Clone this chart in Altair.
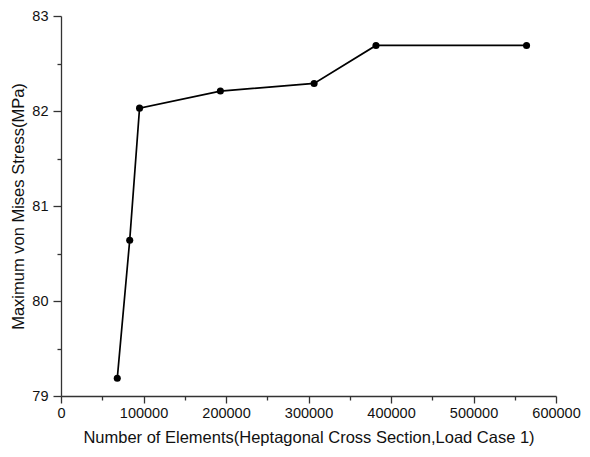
import altair as alt
import pandas as pd

elements = [68200, 83300, 95200, 193200, 306800, 381800, 564300]
stress = [79.186, 80.64, 82.03, 82.21, 82.29, 82.69, 82.69]

x_ticks = [i * 50000 for i in range(13)]
y_ticks = [79 + i * 0.5 for i in range(9)]

df = pd.DataFrame({"elements": elements, "stress": stress})

FONT = "Liberation Sans"

x = alt.X(
    "elements:Q",
    scale=alt.Scale(domain=[0, 600000], nice=False, zero=False),
    axis=alt.Axis(
        values=x_ticks,
        labelExpr="datum.value % 100000 == 0 ? format(datum.value, 'd') : ''",
        tickSize={"condition": {"test": "datum.value % 100000 != 0", "value": 4}, "value": 7},
        title="Number of Elements(Heptagonal Cross Section,Load Case 1)",
        titlePadding=10,
        labelPadding=3,
        labelFlush=False,
        labelOverlap=False,
    ),
)
y = alt.Y(
    "stress:Q",
    scale=alt.Scale(domain=[79, 83], nice=False, zero=False),
    axis=alt.Axis(
        values=y_ticks,
        labelExpr="datum.value % 1 == 0 ? format(datum.value, 'd') : ''",
        tickSize={"condition": {"test": "datum.value % 1 != 0", "value": 4}, "value": 8},
        title="Maximum von Mises Stress(MPa)",
        titlePadding=5,
        labelPadding=5,
        labelOverlap=False,
    ),
)

line = alt.Chart(df).mark_line(color="black", strokeWidth=1.7).encode(x=x, y=y)
pts = alt.Chart(df).mark_circle(color="black", size=50, opacity=1).encode(x=x, y=y)

chart = (
    alt.layer(line, pts)
    .properties(
        width=495,
        height=380,
        autosize=alt.AutoSizeParams(type="none"),
        padding={"left": 53, "top": 8, "right": 25, "bottom": 51},
    )
    .configure_view(stroke=None)
    .configure_axis(
        grid=False,
        domainColor="#333333",
        domainWidth=1.3,
        tickColor="#333333",
        tickWidth=1.3,
        labelFont=FONT,
        labelFontSize=14.5,
        labelColor="#111111",
        titleFont=FONT,
        titleFontSize=16.5,
        titleFontWeight="normal",
        titleColor="#111111",
    )
)

chart.save("out.html", embed_options={"renderer": "svg", "actions": False})
